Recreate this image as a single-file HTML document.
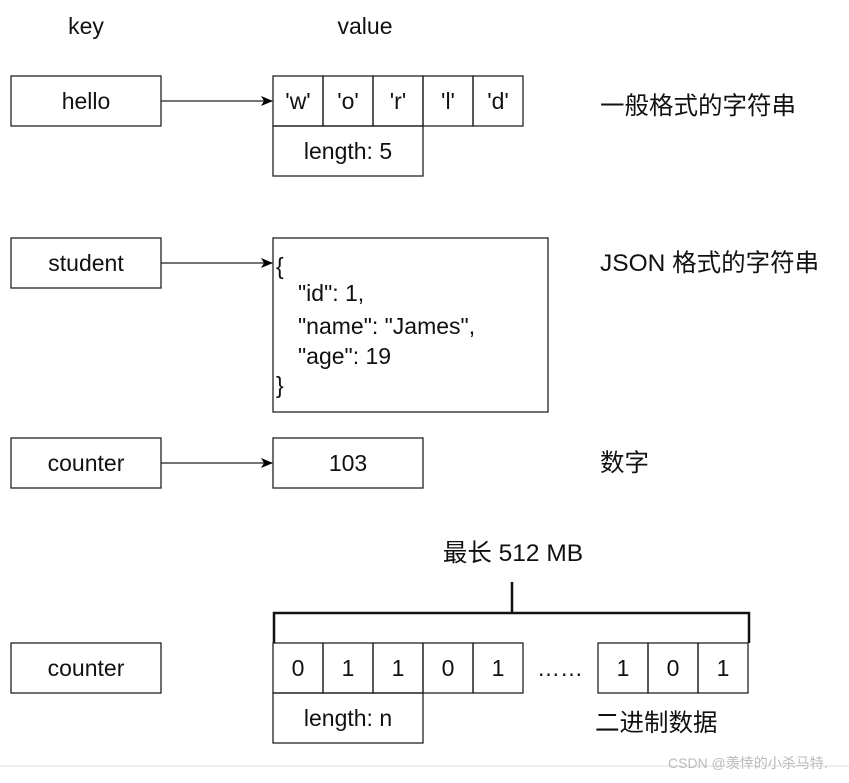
<!DOCTYPE html>
<html><head><meta charset="utf-8"><style>
html,body{margin:0;padding:0;background:#fff;}
svg text{font-family:"Liberation Sans","Noto Sans CJK SC",sans-serif;font-size:23px;fill:#111;}
svg text.c{font-size:24.5px;}
</style></head><body>
<svg width="849" height="778" viewBox="0 0 849 778" xmlns="http://www.w3.org/2000/svg">
<defs><marker id="a" markerWidth="12" markerHeight="10" refX="11" refY="5" orient="auto" markerUnits="userSpaceOnUse"><path d="M0,0 L12,5 L0,10 L3,5 Z" fill="#000"/></marker></defs>
<g fill="none" stroke="#222" stroke-width="1.3">
<rect x="11" y="76" width="150" height="50"/>
<rect x="11" y="238" width="150" height="50"/>
<rect x="11" y="438" width="150" height="50"/>
<rect x="11" y="643" width="150" height="50"/>
<rect x="273" y="76" width="50" height="50"/><rect x="323" y="76" width="50" height="50"/><rect x="373" y="76" width="50" height="50"/><rect x="423" y="76" width="50" height="50"/><rect x="473" y="76" width="50" height="50"/>
<rect x="273" y="126" width="150" height="50"/>
<rect x="273" y="238" width="275" height="174"/>
<rect x="273" y="438" width="150" height="50"/>
<rect x="273" y="643" width="50" height="50"/><rect x="323" y="643" width="50" height="50"/><rect x="373" y="643" width="50" height="50"/><rect x="423" y="643" width="50" height="50"/><rect x="473" y="643" width="50" height="50"/>
<rect x="598" y="643" width="50" height="50"/><rect x="648" y="643" width="50" height="50"/><rect x="698" y="643" width="50" height="50"/>
<rect x="273" y="693" width="150" height="50"/>
<line x1="161" y1="101" x2="272" y2="101" marker-end="url(#a)"/>
<line x1="161" y1="263" x2="272" y2="263" marker-end="url(#a)"/>
<line x1="161" y1="463" x2="272" y2="463" marker-end="url(#a)"/>
</g>
<g fill="none" stroke="#111" stroke-width="2.5">
<polyline points="274,643 274,613 749,613 749,643"/>
<line x1="512" y1="582" x2="512" y2="613"/>
</g>
<line x1="0" y1="766" x2="849" y2="766" stroke="#ddd" stroke-width="1"/>
<g text-anchor="middle">
<text x="86" y="34">key</text><text x="365" y="34">value</text>
<text x="86" y="109">hello</text><text x="86" y="271">student</text><text x="86" y="471">counter</text><text x="86" y="676">counter</text>
<text x="298" y="109">'w'</text><text x="348" y="109">'o'</text><text x="398" y="109">'r'</text><text x="448" y="109">'l'</text><text x="498" y="109">'d'</text>
<text x="348" y="159">length: 5</text>
<text x="348" y="471">103</text>
<text x="298" y="676">0</text><text x="348" y="676">1</text><text x="398" y="676">1</text><text x="448" y="676">0</text><text x="498" y="676">1</text>
<text x="560" y="676">……</text>
<text x="623" y="676">1</text><text x="673" y="676">0</text><text x="723" y="676">1</text>
<text x="348" y="726">length: n</text>
<text x="513" y="561" class="c">最长 512 MB</text>
</g>
<text x="276" y="274">{</text>
<text x="298" y="301">"id": 1,</text>
<text x="298" y="334">"name": "James",</text>
<text x="298" y="364">"age": 19</text>
<text x="276" y="393">}</text>
<text x="600" y="114" class="c">一般格式的字符串</text>
<text x="600" y="271" class="c">JSON 格式的字符串</text>
<text x="600" y="471" class="c">数字</text>
<text x="595" y="731" class="c">二进制数据</text>
<text x="668" y="768" style="font-size:14px;fill:#bbb">CSDN @羡悻的小杀马特.</text>
</svg>
</body></html>
